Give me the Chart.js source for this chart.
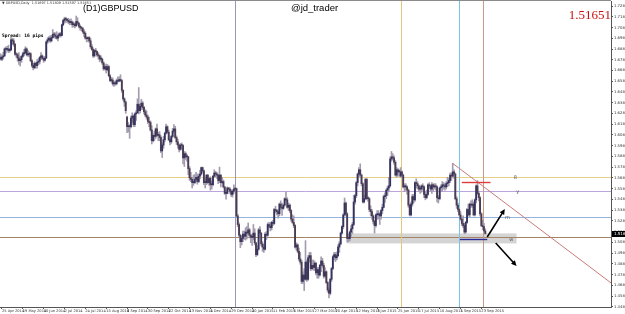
<!DOCTYPE html>
<html>
<head>
<meta charset="utf-8">
<title>(D1)GBPUSD</title>
<script src="https://cdn.jsdelivr.net/npm/chart.js@4.4.1/dist/chart.umd.min.js"></script>
<style>
  html, body { margin: 0; padding: 0; background: #fff; }
  canvas { display: block; }
</style>
</head>
<body>
<canvas id="chart" width="625" height="314"></canvas>
<script>
// GBPUSD daily bars, weekdays from 24 Apr 2014 to 28 Sep 2015 (one row = one week)
const firstDay = '2014-04-24';

const opens = [
  1.6810,1.6790,
  1.6810,1.6820,1.6885,1.6880,1.6885, 1.6870,1.6875,1.6970,1.6960,1.6930,
  1.6835,1.6830,1.6800,1.6775,1.6785, 1.6815,1.6840,1.6850,1.6885,1.6830,
  1.6835,1.6840,1.6775,1.6730,1.6710, 1.6750,1.6730,1.6760,1.6770,1.6805,
  1.6820,1.6795,1.6780,1.6800,1.6950, 1.6970,1.6985,1.6960,1.6990,1.7020,
  1.7015,1.7000,1.6985,1.7010,1.7025, 1.7010,1.7110,1.7150,1.7165,1.7160,
  1.7150,1.7140,1.7130,1.7135,1.7110, 1.7115,1.7100,1.7140,1.7125,1.7095,
  1.7085,1.7075,1.7045,1.7030,1.6985, 1.6980,1.6990,1.6960,1.6905,1.6880,
  1.6820,1.6870,1.6860,1.6830,1.6820, 1.6790,1.6790,1.6755,1.6700,1.6720,
  1.6690,1.6720,1.6635,1.6590,1.6595, 1.6560,1.6570,1.6560,1.6590,1.6585,
  1.6600,1.6590,1.6500,1.6420,1.6390, 1.6250,1.6160,1.6170,1.6160,1.6240,
  1.6260,1.6180,1.6280,1.6290,1.6370, 1.6310,1.6350,1.6380,1.6340,1.6300,
  1.6270,1.6250,1.6210,1.6200,1.6130, 1.6030,1.6080,1.6070,1.6140,1.6080,
  1.6085,1.6060,1.5935,1.5990,1.6040, 1.6100,1.6160,1.6110,1.6040,1.6020,
  1.6070,1.6120,1.6140,1.6060,1.6020, 1.5990,1.5950,1.5990,1.5985,1.5870,
  1.5910,1.5880,1.5880,1.5770,1.5685, 1.5670,1.5640,1.5640,1.5670,1.5690,
  1.5650,1.5700,1.5720,1.5780,1.5750, 1.5640,1.5640,1.5710,1.5640,1.5680,
  1.5620,1.5620,1.5700,1.5730,1.5720, 1.5710,1.5660,1.5710,1.5640,1.5650,
  1.5600,1.5540,1.5540,1.5590,1.5580, 1.5560,1.5530,1.5560,1.5580,1.5585,
  1.5330,1.5250,1.5150,1.5090,1.5120, 1.5160,1.5140,1.5180,1.5170,1.5200,
  1.5150,1.5130,1.5130,1.5170,1.5080, 1.4970,1.5020,1.5200,1.5170,1.5070,
  1.5040,1.5020,1.5160,1.5150,1.5250, 1.5235,1.5220,1.5270,1.5260,1.5390,
  1.5380,1.5370,1.5350,1.5440,1.5410, 1.5400,1.5430,1.5490,1.5480,1.5410,
  1.5430,1.5380,1.5300,1.5270,1.5240, 1.5040,1.5060,1.5000,1.4930,1.4900,
  1.4720,1.4780,1.4740,1.4900,1.4740, 1.4940,1.4960,1.4840,1.4870,1.4850,
  1.4890,1.4800,1.4830,1.4780,1.4870, 1.4910,1.4870,1.4770,1.4810,1.4710,
  1.4640,1.4610,1.4740,1.4840,1.4950, 1.4970,1.4940,1.4960,1.5040,1.5070,
  1.5170,1.5230,1.5340,1.5450,1.5350, 1.5120,1.5120,1.5180,1.5210,1.5250,
  1.5460,1.5520,1.5640,1.5720,1.5760, 1.5710,1.5630,1.5460,1.5490,1.5670,
  1.5490,1.5490,1.5390,1.5370,1.5330, 1.5280,1.5240,1.5340,1.5340,1.5350,
  1.5330,1.5380,1.5410,1.5510,1.5520, 1.5570,1.5590,1.5610,1.5860,1.5880,
  1.5870,1.5830,1.5710,1.5760,1.5740, 1.5700,1.5740,1.5710,1.5600,1.5600,
  1.5600,1.5570,1.5430,1.5340,1.5440, 1.5510,1.5480,1.5640,1.5630,1.5610,
  1.5580,1.5580,1.5610,1.5600,1.5530, 1.5500,1.5530,1.5620,1.5610,1.5580,
  1.5620,1.5600,1.5610,1.5600,1.5500, 1.5490,1.5590,1.5600,1.5620,1.5610,
  1.5600,1.5630,1.5640,1.5660,1.5710, 1.5700,1.5740,1.5720,1.5490,1.5430,
  1.5390,1.5340,1.5300,1.5260,1.5240, 1.5180,1.5270,1.5390,1.5340,1.5440,
  1.5430,1.5440,1.5340,1.5480,1.5610, 1.5540,1.5500,1.5350,1.5240,1.5230,
  1.5190
];

const highs = [
  1.6840,1.6830,
  1.6855,1.6895,1.6905,1.6910,1.6920, 1.6890,1.6996,1.6985,1.6980,1.6935,
  1.6850,1.6845,1.6850,1.6815,1.6825, 1.6855,1.6880,1.6905,1.6895,1.6870,
  1.6855,1.6850,1.6785,1.6750,1.6765, 1.6760,1.6785,1.6795,1.6815,1.6850,
  1.6830,1.6810,1.6815,1.6960,1.6990, 1.7000,1.7010,1.7010,1.7065,1.7040,
  1.7035,1.7045,1.7025,1.7035,1.7040, 1.7115,1.7160,1.7180,1.7180,1.7170,
  1.7170,1.7160,1.7165,1.7145,1.7135, 1.7125,1.7191,1.7175,1.7130,1.7110,
  1.7095,1.7085,1.7065,1.7045,1.7000, 1.6995,1.7000,1.6985,1.6925,1.6895,
  1.6880,1.6890,1.6865,1.6850,1.6830, 1.6820,1.6800,1.6765,1.6740,1.6745,
  1.6740,1.6730,1.6645,1.6620,1.6615, 1.6585,1.6585,1.6605,1.6625,1.6625,
  1.6645,1.6600,1.6505,1.6430,1.6400, 1.6260,1.6200,1.6180,1.6260,1.6290,
  1.6270,1.6290,1.6310,1.6420,1.6525, 1.6365,1.6415,1.6395,1.6350,1.6320,
  1.6310,1.6270,1.6250,1.6215,1.6170, 1.6095,1.6120,1.6150,1.6185,1.6110,
  1.6115,1.6075,1.6010,1.6070,1.6110, 1.6185,1.6170,1.6130,1.6060,1.6080,
  1.6145,1.6180,1.6165,1.6075,1.6045, 1.6000,1.6005,1.6010,1.5995,1.5930,
  1.5925,1.5900,1.5885,1.5790,1.5735, 1.5690,1.5710,1.5715,1.5735,1.5720,
  1.5720,1.5755,1.5785,1.5785,1.5760, 1.5685,1.5715,1.5715,1.5690,1.5695,
  1.5655,1.5705,1.5760,1.5745,1.5735, 1.5720,1.5785,1.5715,1.5690,1.5665,
  1.5605,1.5570,1.5600,1.5595,1.5595, 1.5575,1.5575,1.5620,1.5595,1.5590,
  1.5345,1.5265,1.5160,1.5145,1.5190, 1.5190,1.5220,1.5230,1.5265,1.5215,
  1.5160,1.5160,1.5250,1.5210,1.5085, 1.5055,1.5215,1.5230,1.5175,1.5090,
  1.5065,1.5175,1.5185,1.5265,1.5270, 1.5265,1.5280,1.5290,1.5400,1.5420,
  1.5390,1.5390,1.5450,1.5470,1.5450, 1.5440,1.5500,1.5552,1.5500,1.5450,
  1.5440,1.5390,1.5340,1.5330,1.5250, 1.5080,1.5070,1.5030,1.4990,1.4920,
  1.4810,1.4840,1.5100,1.4920,1.4960, 1.4990,1.4990,1.4920,1.4920,1.4910,
  1.4895,1.4850,1.4850,1.4880,1.4950, 1.4935,1.4890,1.4850,1.4820,1.4720,
  1.4660,1.4750,1.4850,1.4960,1.4990, 1.4990,1.4995,1.5060,1.5090,1.5180,
  1.5240,1.5350,1.5497,1.5460,1.5360, 1.5160,1.5190,1.5240,1.5270,1.5522,
  1.5530,1.5650,1.5730,1.5780,1.5815, 1.5720,1.5640,1.5525,1.5680,1.5680,
  1.5510,1.5500,1.5425,1.5390,1.5340, 1.5290,1.5350,1.5380,1.5380,1.5360,
  1.5390,1.5440,1.5525,1.5545,1.5580, 1.5610,1.5690,1.5880,1.5930,1.5910,
  1.5890,1.5845,1.5780,1.5770,1.5760, 1.5780,1.5750,1.5720,1.5630,1.5630,
  1.5610,1.5580,1.5440,1.5460,1.5530, 1.5530,1.5650,1.5675,1.5650,1.5620,
  1.5600,1.5620,1.5630,1.5610,1.5560, 1.5570,1.5630,1.5640,1.5620,1.5640,
  1.5630,1.5630,1.5630,1.5610,1.5520, 1.5600,1.5620,1.5650,1.5640,1.5630,
  1.5650,1.5690,1.5680,1.5730,1.5730, 1.5819,1.5760,1.5730,1.5510,1.5450,
  1.5400,1.5370,1.5320,1.5330,1.5260, 1.5280,1.5400,1.5440,1.5450,1.5470,
  1.5480,1.5460,1.5490,1.5620,1.5659, 1.5560,1.5510,1.5360,1.5290,1.5260,
  1.5210
];

const lows = [
  1.6780,1.6775,
  1.6790,1.6815,1.6845,1.6865,1.6850, 1.6855,1.6870,1.6925,1.6910,1.6825,
  1.6805,1.6770,1.6740,1.6725,1.6760, 1.6805,1.6820,1.6840,1.6820,1.6815,
  1.6810,1.6765,1.6715,1.6690,1.6700, 1.6705,1.6705,1.6735,1.6745,1.6785,
  1.6790,1.6760,1.6770,1.6795,1.6935, 1.6960,1.6945,1.6950,1.6985,1.6990,
  1.6980,1.6975,1.6960,1.6995,1.6995, 1.7005,1.7100,1.7125,1.7130,1.7135,
  1.7120,1.7110,1.7110,1.7085,1.7090, 1.7080,1.7095,1.7110,1.7080,1.7060,
  1.7055,1.7030,1.7000,1.6975,1.6950, 1.6955,1.6945,1.6890,1.6870,1.6805,
  1.6810,1.6855,1.6815,1.6790,1.6765, 1.6770,1.6740,1.6685,1.6690,1.6660,
  1.6680,1.6625,1.6580,1.6575,1.6545, 1.6535,1.6545,1.6550,1.6575,1.6580,
  1.6580,1.6480,1.6405,1.6350,1.6285, 1.6105,1.6110,1.6052,1.6150,1.6200,
  1.6160,1.6160,1.6220,1.6285,1.6280, 1.6290,1.6320,1.6320,1.6280,1.6255,
  1.6230,1.6190,1.6160,1.6120,1.6000, 1.6020,1.6030,1.6050,1.6070,1.6030,
  1.6030,1.5920,1.5873,1.5960,1.6020, 1.6090,1.6100,1.6030,1.5990,1.6005,
  1.6060,1.6105,1.6050,1.5995,1.5960, 1.5925,1.5940,1.5950,1.5815,1.5790,
  1.5855,1.5840,1.5715,1.5660,1.5650, 1.5590,1.5615,1.5630,1.5645,1.5625,
  1.5640,1.5675,1.5710,1.5735,1.5620, 1.5590,1.5620,1.5630,1.5615,1.5570,
  1.5580,1.5610,1.5690,1.5695,1.5680, 1.5630,1.5640,1.5600,1.5630,1.5590,
  1.5530,1.5485,1.5535,1.5570,1.5540, 1.5510,1.5505,1.5540,1.5565,1.5320,
  1.5230,1.5130,1.5035,1.5060,1.5090, 1.5110,1.5105,1.5115,1.5150,1.5125,
  1.5080,1.5055,1.5110,1.5060,1.4951, 1.4960,1.5010,1.5140,1.5050,1.5000,
  1.4990,1.5010,1.5110,1.5140,1.5220, 1.5190,1.5200,1.5240,1.5250,1.5360,
  1.5340,1.5310,1.5330,1.5390,1.5335, 1.5390,1.5420,1.5470,1.5400,1.5380,
  1.5360,1.5280,1.5260,1.5220,1.5030, 1.5010,1.4985,1.4910,1.4880,1.4700,
  1.4700,1.4635,1.4730,1.4720,1.4730, 1.4900,1.4820,1.4830,1.4825,1.4820,
  1.4780,1.4750,1.4750,1.4770,1.4810, 1.4850,1.4750,1.4760,1.4700,1.4620,
  1.4566,1.4595,1.4720,1.4830,1.4920, 1.4905,1.4920,1.4950,1.4990,1.5060,
  1.5160,1.5210,1.5330,1.5330,1.5085, 1.5090,1.5100,1.5140,1.5165,1.5240,
  1.5440,1.5500,1.5610,1.5690,1.5700, 1.5610,1.5450,1.5450,1.5480,1.5480,
  1.5465,1.5370,1.5330,1.5300,1.5255, 1.5170,1.5225,1.5300,1.5300,1.5250,
  1.5300,1.5350,1.5405,1.5455,1.5490, 1.5520,1.5560,1.5600,1.5840,1.5850,
  1.5810,1.5700,1.5690,1.5700,1.5700, 1.5690,1.5685,1.5590,1.5560,1.5570,
  1.5530,1.5410,1.5330,1.5330,1.5420, 1.5450,1.5465,1.5590,1.5580,1.5560,
  1.5540,1.5550,1.5570,1.5500,1.5480, 1.5490,1.5520,1.5590,1.5560,1.5540,
  1.5560,1.5580,1.5570,1.5460,1.5450, 1.5480,1.5560,1.5560,1.5580,1.5570,
  1.5580,1.5600,1.5610,1.5640,1.5660, 1.5690,1.5680,1.5480,1.5400,1.5370,
  1.5330,1.5290,1.5240,1.5220,1.5164, 1.5170,1.5260,1.5330,1.5320,1.5410,
  1.5410,1.5330,1.5330,1.5450,1.5530, 1.5470,1.5330,1.5230,1.5200,1.5180,
  1.5160
];

const closes = [
  1.6790,1.6810,
  1.6820,1.6885,1.6880,1.6885,1.6870, 1.6875,1.6970,1.6960,1.6930,1.6835,
  1.6830,1.6800,1.6775,1.6785,1.6815, 1.6840,1.6850,1.6885,1.6830,1.6835,
  1.6840,1.6775,1.6730,1.6710,1.6750, 1.6730,1.6760,1.6770,1.6805,1.6820,
  1.6795,1.6780,1.6800,1.6950,1.6970, 1.6985,1.6960,1.6990,1.7020,1.7015,
  1.7000,1.6985,1.7010,1.7025,1.7010, 1.7110,1.7150,1.7165,1.7160,1.7150,
  1.7140,1.7130,1.7135,1.7110,1.7115, 1.7100,1.7140,1.7125,1.7095,1.7085,
  1.7075,1.7045,1.7030,1.6985,1.6980, 1.6990,1.6960,1.6905,1.6880,1.6820,
  1.6870,1.6860,1.6830,1.6820,1.6790, 1.6790,1.6755,1.6700,1.6720,1.6690,
  1.6720,1.6635,1.6590,1.6595,1.6560, 1.6570,1.6560,1.6590,1.6585,1.6600,
  1.6590,1.6500,1.6420,1.6390,1.6310, 1.6160,1.6170,1.6160,1.6240,1.6260,
  1.6180,1.6280,1.6290,1.6370,1.6310, 1.6350,1.6380,1.6340,1.6300,1.6270,
  1.6250,1.6210,1.6200,1.6130,1.6030, 1.6080,1.6070,1.6140,1.6080,1.6085,
  1.6060,1.5935,1.5990,1.6040,1.6100, 1.6160,1.6110,1.6040,1.6020,1.6070,
  1.6120,1.6140,1.6060,1.6020,1.5990, 1.5950,1.5990,1.5985,1.5870,1.5910,
  1.5880,1.5880,1.5770,1.5685,1.5670, 1.5640,1.5640,1.5670,1.5690,1.5650,
  1.5700,1.5720,1.5780,1.5750,1.5640, 1.5640,1.5710,1.5640,1.5680,1.5620,
  1.5620,1.5700,1.5730,1.5720,1.5710, 1.5660,1.5710,1.5640,1.5650,1.5600,
  1.5540,1.5540,1.5590,1.5580,1.5560, 1.5530,1.5560,1.5580,1.5585,1.5330,
  1.5250,1.5150,1.5090,1.5120,1.5160, 1.5140,1.5180,1.5170,1.5200,1.5150,
  1.5130,1.5130,1.5170,1.5080,1.4970, 1.5020,1.5200,1.5170,1.5070,1.5040,
  1.5020,1.5160,1.5150,1.5250,1.5235, 1.5220,1.5270,1.5260,1.5390,1.5380,
  1.5370,1.5350,1.5440,1.5410,1.5400, 1.5430,1.5490,1.5480,1.5410,1.5430,
  1.5380,1.5300,1.5270,1.5240,1.5040, 1.5060,1.5000,1.4930,1.4900,1.4720,
  1.4780,1.4740,1.4900,1.4740,1.4940, 1.4960,1.4840,1.4870,1.4850,1.4890,
  1.4800,1.4830,1.4780,1.4870,1.4910, 1.4870,1.4770,1.4810,1.4710,1.4640,
  1.4610,1.4740,1.4840,1.4950,1.4970, 1.4940,1.4960,1.5040,1.5070,1.5170,
  1.5230,1.5340,1.5450,1.5350,1.5120, 1.5120,1.5180,1.5210,1.5250,1.5460,
  1.5520,1.5640,1.5720,1.5760,1.5710, 1.5630,1.5460,1.5490,1.5670,1.5490,
  1.5490,1.5390,1.5370,1.5330,1.5280, 1.5240,1.5340,1.5340,1.5350,1.5330,
  1.5380,1.5410,1.5510,1.5520,1.5570, 1.5590,1.5610,1.5860,1.5880,1.5870,
  1.5830,1.5710,1.5760,1.5740,1.5750, 1.5740,1.5710,1.5600,1.5600,1.5600,
  1.5570,1.5430,1.5340,1.5440,1.5510, 1.5480,1.5640,1.5630,1.5610,1.5580,
  1.5580,1.5610,1.5600,1.5530,1.5500, 1.5530,1.5620,1.5610,1.5580,1.5620,
  1.5600,1.5610,1.5600,1.5500,1.5490, 1.5590,1.5600,1.5620,1.5610,1.5600,
  1.5630,1.5640,1.5660,1.5710,1.5700, 1.5740,1.5720,1.5490,1.5430,1.5390,
  1.5340,1.5300,1.5260,1.5240,1.5180, 1.5270,1.5390,1.5340,1.5440,1.5430,
  1.5440,1.5340,1.5480,1.5610,1.5540, 1.5500,1.5350,1.5240,1.5230,1.5190,
  1.51651
];

// time axis labels (the terminal prints one every 16 bars)
const dateTicks = [
  '25 Apr 2014', '19 May 2014', '10 Jun 2014', '2 Jul 2014', '24 Jul 2014', '15 Aug 2014',
  '8 Sep 2014', '30 Sep 2014', '22 Oct 2014', '13 Nov 2014', '5 Dec 2014', '29 Dec 2014',
  '20 Jan 2015', '11 Feb 2015', '5 Mar 2015', '27 Mar 2015', '20 Apr 2015', '12 May 2015',
  '3 Jun 2015', '25 Jun 2015', '17 Jul 2015', '10 Aug 2015', '1 Sep 2015', '23 Sep 2015'
];

// price axis labels
const priceTicks = [
  1.7284, 1.7184, 1.7084, 1.6984, 1.6884, 1.6784, 1.6684, 1.6584, 1.6484, 1.6384,
  1.6284, 1.6184, 1.6084, 1.5984, 1.5884, 1.5784, 1.5684, 1.5584, 1.5484, 1.5384,
  1.5284, 1.5184, 1.5084, 1.4984, 1.4884, 1.4784, 1.4684, 1.4584, 1.4484
];
const priceMin = 1.4482;
const priceMax = 1.7331;
const barSlots = 469;   // bar slots on screen, incl. the empty shift on the right

// objects drawn on the chart, in bar index / price
const hLines = [
  { price: 1.5695, color: '#e6cf86' },
  { price: 1.5562, color: '#bca4dc' },
  { price: 1.5323, color: '#94b4dc' },
  { price: 1.5131, color: '#a48462' }
];
const vLines = [
  { bar: 180, color: '#9c94b8' },
  { bar: 307, color: '#e2c878' },
  { bar: 352, color: '#78c4e2' },
  { bar: 370, color: '#c89a84' }
];
const zone = { from: 266, to: 396, top: 1.5167, bottom: 1.5074 };
const segments = [
  { from: 354, to: 376, price: 1.5649, color: '#e03a3a' },
  { from: 352.5, to: 373.5, price: 1.5112, color: '#2a2a9a' }
];
const trendRay = { bar1: 347, price1: 1.5819, bar2: 366, price2: 1.5645, color: '#c97a7a' };
const arrows = [
  { bar1: 373.5, price1: 1.5134, bar2: 387, price2: 1.5394 },
  { bar1: 380, price1: 1.5078, bar2: 396, price2: 1.4864 }
];
const lineTags = [
  { text: '8', bar: 395, price: 1.5690 },
  { text: 'y', bar: 397, price: 1.5556 },
  { text: 'm', bar: 389, price: 1.5315 },
  { text: 'w', bar: 392, price: 1.5110 }
];

const MONTHS = ['Jan', 'Feb', 'Mar', 'Apr', 'May', 'Jun', 'Jul', 'Aug', 'Sep', 'Oct', 'Nov', 'Dec'];

function weekdayNames(start, n) {
  const out = [];
  const d = new Date(start + 'T00:00:00Z');
  while (out.length < n) {
    const wd = d.getUTCDay();
    if (wd !== 0 && wd !== 6) {
      out.push(d.getUTCDate() + ' ' + MONTHS[d.getUTCMonth()] + ' ' + d.getUTCFullYear());
    }
    d.setUTCDate(d.getUTCDate() + 1);
  }
  return out;
}

const days = weekdayNames(firstDay, barSlots);
const tickBars = dateTicks.map(t => days.indexOf(t));

const BULL = '#33335f';
const BEAR = '#4a3c52';
const WICK = '#a49cae';

const wickData = highs.map((h, i) => ({ x: i, y: [lows[i], h] }));
const bodyData = opens.map((o, i) => ({ x: i, y: [o, closes[i]] }));
const bodyColors = opens.map((o, i) => closes[i] >= o ? BULL : BEAR);

function drawArrow(ctx, x1, y1, x2, y2) {
  const ang = Math.atan2(y2 - y1, x2 - x1);
  const len = 6;
  ctx.beginPath();
  ctx.moveTo(x1, y1);
  ctx.lineTo(x2 - Math.cos(ang) * 3, y2 - Math.sin(ang) * 3);
  ctx.stroke();
  ctx.beginPath();
  ctx.moveTo(x2, y2);
  ctx.lineTo(x2 - len * Math.cos(ang - 0.45), y2 - len * Math.sin(ang - 0.45));
  ctx.lineTo(x2 - len * Math.cos(ang + 0.45), y2 - len * Math.sin(ang + 0.45));
  ctx.closePath();
  ctx.fill();
}

// MT4 style objects: lines, zone, trend ray, arrows and captions
const overlay = {
  id: 'overlay',
  beforeDatasetsDraw(chart) {
    const { ctx, chartArea: a, scales: { x, y } } = chart;
    ctx.save();
    ctx.beginPath();
    ctx.rect(a.left, a.top, a.right - a.left, a.bottom - a.top);
    ctx.clip();

    const zx0 = x.getPixelForValue(zone.from);
    const zx1 = x.getPixelForValue(zone.to);
    const zy0 = y.getPixelForValue(zone.top);
    const zy1 = y.getPixelForValue(zone.bottom);
    ctx.fillStyle = '#d4d4d4';
    ctx.fillRect(zx0, zy0, zx1 - zx0, zy1 - zy0);

    ctx.lineWidth = 1;
    hLines.forEach(l => {
      const py = Math.round(y.getPixelForValue(l.price)) + 0.5;
      ctx.strokeStyle = l.color;
      ctx.beginPath();
      ctx.moveTo(a.left, py);
      ctx.lineTo(a.right, py);
      ctx.stroke();
    });
    vLines.forEach(l => {
      const px = Math.round(x.getPixelForValue(l.bar)) + 0.5;
      ctx.strokeStyle = l.color;
      ctx.beginPath();
      ctx.moveTo(px, a.top);
      ctx.lineTo(px, a.bottom);
      ctx.stroke();
    });
    ctx.restore();
  },
  afterDatasetsDraw(chart) {
    const { ctx, chartArea: a, scales: { x, y } } = chart;
    ctx.save();
    ctx.beginPath();
    ctx.rect(a.left, a.top, a.right - a.left, a.bottom - a.top);
    ctx.clip();

    // trend ray, extended to the right edge
    const tx1 = x.getPixelForValue(trendRay.bar1), ty1 = y.getPixelForValue(trendRay.price1);
    const tx2 = x.getPixelForValue(trendRay.bar2), ty2 = y.getPixelForValue(trendRay.price2);
    const slope = (ty2 - ty1) / (tx2 - tx1);
    ctx.strokeStyle = trendRay.color;
    ctx.lineWidth = 1;
    ctx.beginPath();
    ctx.moveTo(tx1, ty1);
    ctx.lineTo(a.right, ty1 + slope * (a.right - tx1));
    ctx.stroke();

    segments.forEach(s => {
      const py = Math.round(y.getPixelForValue(s.price)) + 0.5;
      ctx.strokeStyle = s.color;
      ctx.lineWidth = 1.4;
      ctx.beginPath();
      ctx.moveTo(x.getPixelForValue(s.from), py);
      ctx.lineTo(x.getPixelForValue(s.to), py);
      ctx.stroke();
    });

    ctx.strokeStyle = '#000';
    ctx.fillStyle = '#000';
    ctx.lineWidth = 1.6;
    arrows.forEach(r => {
      drawArrow(ctx,
        x.getPixelForValue(r.bar1), y.getPixelForValue(r.price1),
        x.getPixelForValue(r.bar2), y.getPixelForValue(r.price2));
    });

    ctx.fillStyle = '#555';
    ctx.font = '5px "DejaVu Sans"';
    ctx.textAlign = 'center';
    ctx.textBaseline = 'middle';
    lineTags.forEach(t => {
      ctx.fillText(t.text, x.getPixelForValue(t.bar), y.getPixelForValue(t.price));
    });
    ctx.restore();
  },
  afterDraw(chart) {
    const { ctx, chartArea: a, scales: { y } } = chart;
    ctx.save();

    // frame line along the top
    ctx.strokeStyle = '#8a8a8a';
    ctx.lineWidth = 1;
    ctx.beginPath();
    ctx.moveTo(0, 0.5);
    ctx.lineTo(a.right, 0.5);
    ctx.stroke();

    // current price marker on the price axis
    const last = closes[closes.length - 1];
    const py = Math.round(y.getPixelForValue(last));
    ctx.fillStyle = '#000';
    ctx.fillRect(a.right + 1, py - 3, 14, 6);
    ctx.fillStyle = '#fff';
    ctx.font = '4px "DejaVu Sans"';
    ctx.textAlign = 'left';
    ctx.textBaseline = 'middle';
    ctx.fillText(last.toFixed(4), a.right + 3, py);

    // terminal header line
    ctx.fillStyle = '#333';
    ctx.font = '3.4px "DejaVu Sans"';
    ctx.textBaseline = 'top';
    ctx.fillText('\u25BC GBPUSD,Daily  1.51697 1.51809 1.51597 ' + last.toFixed(5), 2, 1.5);

    ctx.fillStyle = '#000';
    ctx.font = '9px "Liberation Sans"';
    ctx.textBaseline = 'alphabetic';
    ctx.fillText('(D1)GBPUSD', 83, 11);
    ctx.font = '9.5px "Liberation Sans"';
    ctx.fillText('@jd_trader', 291, 11);

    ctx.fillStyle = '#c80f0f';
    ctx.font = '13px "Liberation Serif"';
    ctx.textAlign = 'right';
    ctx.fillText(last.toFixed(5), a.right, 19);

    ctx.fillStyle = '#000';
    ctx.font = 'bold 4.6px "DejaVu Sans Mono"';
    ctx.textAlign = 'left';
    ctx.fillText('Spread: 16 pips', 2, 37);
    ctx.restore();
  }
};

new Chart(document.getElementById('chart'), {
  type: 'bar',
  data: {
    datasets: [
      {
        data: wickData,
        backgroundColor: WICK,
        barThickness: 1,
        grouped: false,
        order: 2
      },
      {
        data: bodyData,
        backgroundColor: bodyColors,
        barThickness: 1.2,
        minBarLength: 1,
        grouped: false,
        order: 1
      }
    ]
  },
  options: {
    responsive: false,
    animation: false,
    devicePixelRatio: 1,
    layout: { padding: { top: 1, left: 0, right: 0, bottom: 0 }, autoPadding: false },
    plugins: { legend: { display: false }, tooltip: { enabled: false } },
    scales: {
      x: {
        type: 'linear',
        min: -0.5,
        max: barSlots - 0.5,
        offset: false,
        grid: { display: true, drawOnChartArea: false, offset: false, tickLength: 2, color: '#555' },
        border: { display: true, color: '#555' },
        afterBuildTicks(scale) {
          scale.ticks = tickBars.map(v => ({ value: v }));
        },
        ticks: {
          autoSkip: false,
          maxRotation: 0,
          align: 'start',
          padding: 0,
          color: '#333',
          font: { family: 'DejaVu Sans', size: 3.6 },
          callback: v => days[v]
        },
        afterFit(scale) {
          scale.height = 7;
          scale.paddingLeft = 0;
          scale.paddingRight = 0;
        }
      },
      y: {
        position: 'right',
        min: priceMin,
        max: priceMax,
        grid: { display: true, drawOnChartArea: false, tickLength: 2, color: '#555' },
        border: { display: true, color: '#555' },
        afterBuildTicks(scale) {
          scale.ticks = priceTicks.map(v => ({ value: v }));
        },
        ticks: {
          padding: 1,
          color: '#333',
          font: { family: 'DejaVu Sans', size: 3.8 },
          callback: v => v.toFixed(4)
        },
        afterFit(scale) {
          scale.width = 14;
          scale.paddingTop = 0;
          scale.paddingBottom = 0;
        }
      }
    }
  },
  plugins: [overlay]
});
</script>
</body>
</html>
